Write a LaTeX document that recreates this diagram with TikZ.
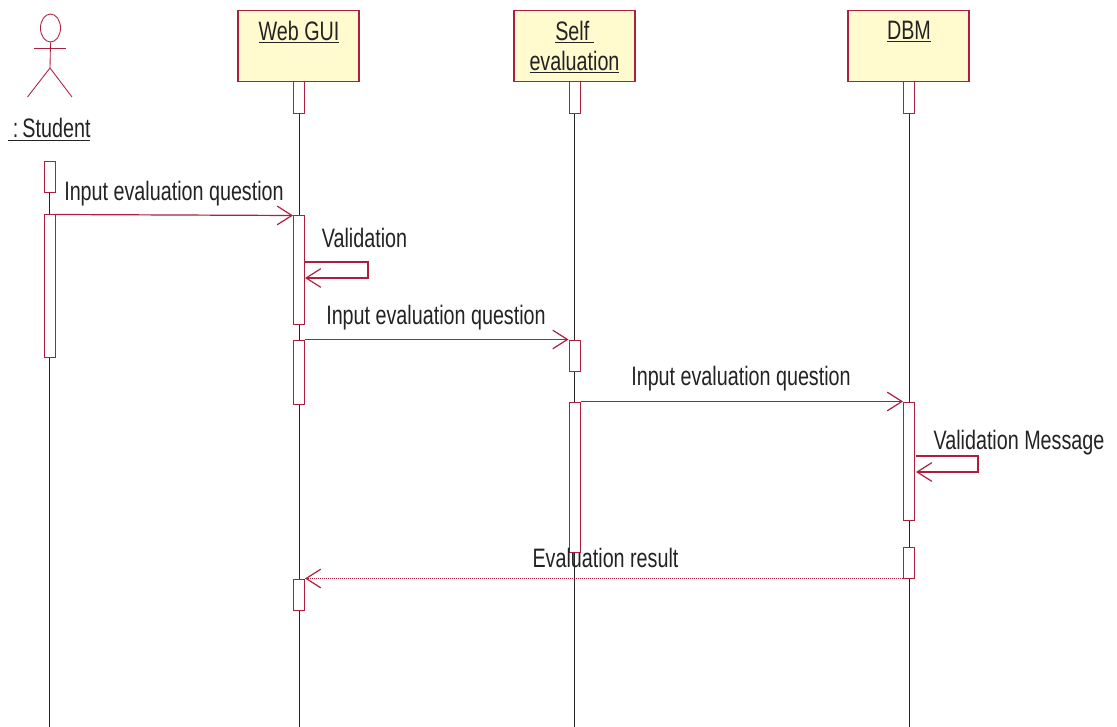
\documentclass[tikz,border=0pt]{standalone}
\usepackage{fontspec}
\setmainfont[FakeStretch=0.74]{Liberation Sans}
\usetikzlibrary{arrows.meta, backgrounds, shapes.geometric}
\definecolor{umlred}{RGB}{172,32,62}
\definecolor{umlyellow}{RGB}{255,251,207}
\definecolor{labelcolor}{RGB}{35,35,35}

\begin{document}
\begin{tikzpicture}[
    x=0.75pt, y=-0.75pt,
    objbox/.style={draw=umlred, line width=0.9pt, fill=umlyellow, minimum width=90.75pt, minimum height=53pt, inner sep=0pt},
    objlabel/.style={text=labelcolor, font=\fontsize{20}{22.5}\selectfont, align=center, inner sep=0pt},
    actbox/.style={draw=umlred, line width=0.75pt, fill=white, minimum width=8.25pt, inner sep=0pt},
    msg/.style={draw=umlred, line width=0.9pt, -{Straight Barb[length=11pt, width=14pt, line width=0.9pt]}},
    backmsg/.style={msg, line width=0.5pt, densely dotted, -{Straight Barb[length=11pt, width=14pt, line width=0.9pt, sep=0pt]}},
    actorline/.style={draw=umlred, line width=0.65pt},
    lifeline/.style={draw=black!85, line width=0.7pt},
    msglabel/.style={text=labelcolor, font=\fontsize{20}{22.5}\selectfont, inner sep=0pt}
]
    \useasboundingbox (0,0) rectangle (1117,727);

    % objects
    \node[objbox] (web) at (298.5,46) {};
    \node[objbox] (self) at (574.5,46) {};
    \node[objbox] (dbm) at (908.5,46) {};
    \node[objlabel] (weblabel) at (299,32) {\underline{Web GUI}};
    \node[objlabel, anchor=north] (selflabel) at (574.5,21) {\underline{Self\phantom{i}}\\\underline{evaluation}};
    \node[objlabel] (dbmlabel) at (909,32) {\underline{DBM}};

    % actor
    \node[draw=umlred, line width=0.65pt, ellipse, minimum width=15pt, minimum height=21pt, inner sep=0pt] (head) at (50.5,28) {};
    \coordinate (armL) at (34,48.5);
    \coordinate (armR) at (66,48.5);
    \coordinate (hip) at (50,68);
    \coordinate (legL) at (27.5,97);
    \coordinate (legR) at (72,97);
    \draw[actorline] (head.south) -- (hip);
    \draw[actorline] (armL) -- (armR);
    \draw[actorline] (legL) -- (hip) -- (legR);
    \node[objlabel] (student) at (49,129.5) {\underline{\kern4pt:\kern-1pt\ Student}};

    % activations
    \node[actbox, minimum height=23.25pt] (st1) at (49.5,177.5) {};
    \node[actbox, minimum height=106.5pt] (st2) at (49.5,286) {};
    \node[actbox, minimum height=24pt] (w1) at (299,98) {};
    \node[actbox, minimum height=81pt] (w2) at (299,270) {};
    \node[actbox, minimum height=48pt] (w3) at (299,372) {};
    \node[actbox, minimum height=23.25pt] (w4) at (299,594.5) {};
    \node[actbox, minimum height=24pt] (s1) at (574.5,98) {};
    \node[actbox, minimum height=23.25pt] (s2) at (574.5,355.5) {};
    \node[actbox, minimum height=112.5pt] (s3) at (574.5,477) {};
    \node[actbox, minimum height=24pt] (d1) at (909,98) {};
    \node[actbox, minimum height=88.5pt] (d2) at (909,461) {};
    \node[actbox, minimum height=23.25pt] (d3) at (909,562.5) {};

    % lifelines
    \coordinate (stend) at (49.5,727);
    \coordinate (wend) at (299,727);
    \coordinate (send) at (574.5,727);
    \coordinate (dend) at (909,727);
    \begin{scope}[on background layer]
        \draw[lifeline] (st1.north) -- (stend);
        \draw[lifeline] (w1.north) -- (wend);
        \draw[lifeline] (s1.north) -- (send);
        \draw[lifeline] (d1.north) -- (dend);
    \end{scope}

    % messages
    \coordinate (wloopA) at (305,262);
    \coordinate (wloopB) at (368,262);
    \coordinate (wloopC) at (368,278);
    \coordinate (wloopD) at (305,278);
    \coordinate (dloopA) at (916,456);
    \coordinate (dloopB) at (978,456);
    \coordinate (dloopC) at (978,472);
    \coordinate (dloopD) at (916,472);
    \draw[msg] (st2.north east) -- (w2.north west);
    \draw[msg] (wloopA) -- (wloopB) -- (wloopC) -- (wloopD);
    \draw[msg] (w3.north east) -- (s2.north west);
    \draw[msg] (s3.north east) -- (d2.north west);
    \draw[msg] (dloopA) -- (dloopB) -- (dloopC) -- (dloopD);
    \draw[backmsg] (d3.south west) -- (w4.north east);

    \node[msglabel] (m1) at (174,194) {Input evaluation question};
    \node[msglabel] (m2) at (364.5,238) {Validation};
    \node[msglabel] (m3) at (436,318) {Input evaluation question};
    \node[msglabel] (m4) at (741,379) {Input evaluation question};
    \node[msglabel] (m5) at (1019,443) {Validation Message};
    \node[msglabel] (m6) at (605.5,558) {Evaluation result};
\end{tikzpicture}
\end{document}
